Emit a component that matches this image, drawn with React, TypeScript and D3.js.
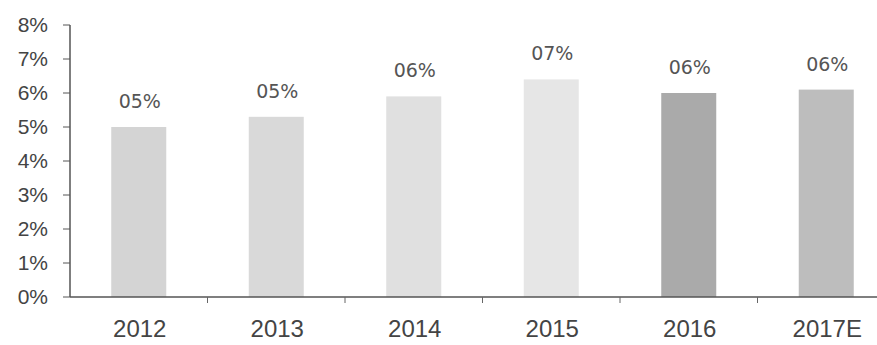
import React from "react";
import * as d3 from "d3";

const categories = ["2012", "2013", "2014", "2015", "2016", "2017E"];
const values = [5.0, 5.3, 5.9, 6.4, 6.0, 6.1];
const valueLabels = ["05%", "05%", "06%", "07%", "06%", "06%"];
const barColors = ["#d4d4d4", "#d9d9d9", "#e0e0e0", "#e6e6e6", "#aaaaaa", "#bdbdbd"];
const yTicks = [0, 1, 2, 3, 4, 5, 6, 7, 8];

const W = 877;
const H = 345;
const margin = { left: 70, top: 25, right: -18, bottom: 48 };

export default function App() {
  const x = d3
    .scaleBand<string>()
    .domain(categories)
    .range([margin.left, W - margin.right])
    .paddingInner(0.6)
    .paddingOuter(0.3);
  const y = d3.scaleLinear().domain([0, 8]).range([H - margin.bottom, margin.top]);
  const step = x.step();
  const x0 = margin.left;
  return (
    <svg
      width={W}
      height={H}
      style={{ position: "absolute", left: 0, top: 0, background: "#fff" }}
      fontFamily="Liberation Sans, Arial, sans-serif"
    >
      {categories.map((c, i) => (
        <g key={c}>
          <rect
            x={x(c)}
            y={y(values[i])}
            width={x.bandwidth()}
            height={y(0) - y(values[i])}
            fill={barColors[i]}
          />
          <text
            x={(x(c) as number) + x.bandwidth() / 2 + 1}
            y={y(values[i]) - 19}
            textAnchor="middle"
            fontSize={19}
            fontFamily="DejaVu Sans, sans-serif"
            fill="#555"
          >
            {valueLabels[i]}
          </text>
          <text
            x={(x(c) as number) + x.bandwidth() / 2 + 1}
            y={y(0) + 40}
            textAnchor="middle"
            fontSize={24}
            fill="#444"
          >
            {c}
          </text>
        </g>
      ))}
      {/* x axis */}
      <line x1={x0} x2={W} y1={y(0)} y2={y(0)} stroke="#555" strokeWidth={1.5} />
      {categories.slice(1).map((c, i) => {
        const bx = x0 + step * (i + 1);
        return (
          <line key={c} x1={bx} x2={bx} y1={y(0)} y2={y(0) + 6} stroke="#666" strokeWidth={1} />
        );
      })}
      {/* y axis */}
      <line x1={x0} x2={x0} y1={y(8)} y2={y(0)} stroke="#555" strokeWidth={1.5} />
      {yTicks.map((t) => (
        <g key={t}>
          <line x1={x0 - 7} x2={x0} y1={y(t)} y2={y(t)} stroke="#555" strokeWidth={1} />
          <text x={x0 - 22} y={y(t)} dy="0.35em" textAnchor="end" fontSize={21} fill="#444">
            {t}%
          </text>
        </g>
      ))}
    </svg>
  );
}
